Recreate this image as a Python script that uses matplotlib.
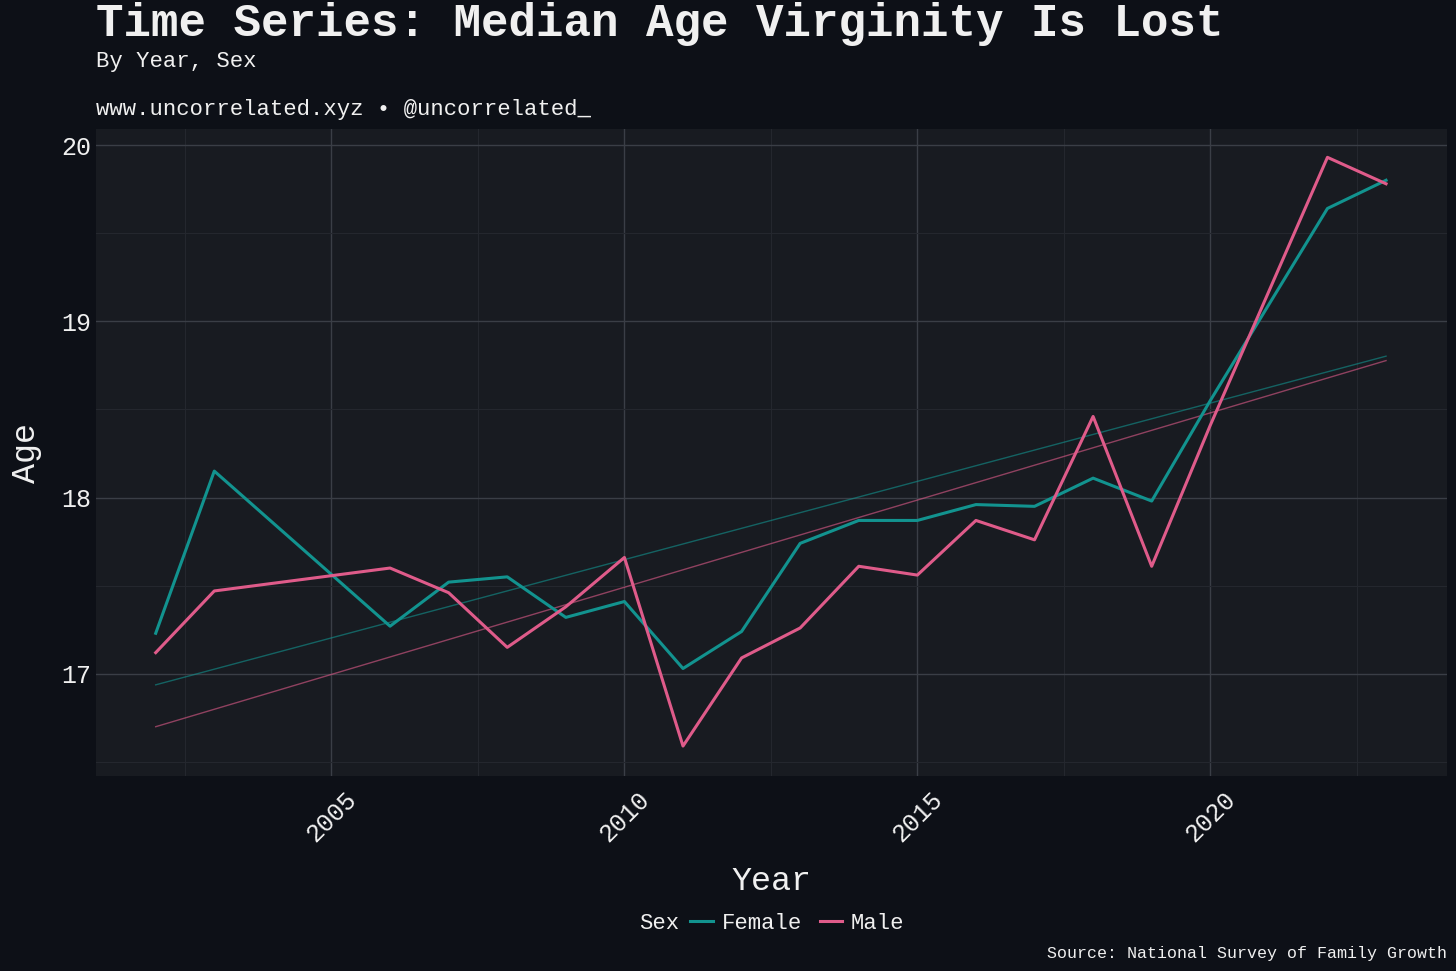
import numpy as np
import matplotlib
matplotlib.use("Agg")
import matplotlib.pyplot as plt
from matplotlib.ticker import MultipleLocator

years = [2002, 2003, 2006, 2007, 2008, 2009, 2010, 2011, 2012, 2013, 2014,
         2015, 2016, 2017, 2018, 2019, 2020, 2022, 2023]
female = [17.23, 18.15, 17.27, 17.52, 17.55, 17.32, 17.41, 17.03, 17.24, 17.74,
          17.87, 17.87, 17.96, 17.95, 18.11, 17.98, 18.55, 19.64, 19.80]
male = [17.12, 17.47, 17.60, 17.46, 17.15, 17.38, 17.66, 16.59, 17.09, 17.26,
        17.61, 17.56, 17.87, 17.76, 18.46, 17.61, 18.41, 19.93, 19.78]

BG = "#0d1017"
PANEL = "#181b21"
TEAL = "#12938f"
PINK = "#df5b8a"
TXT = "#f0f0f0"
plt.rcParams['font.family'] = ['Liberation Mono', 'DejaVu Sans Mono']

fig = plt.figure(figsize=(14.56, 9.71), dpi=100, facecolor=BG)
ax = fig.add_axes([0.0659, 0.2008, 0.9279, 0.6662])
ax.set_facecolor(PANEL)
for s in ax.spines.values():
    s.set_visible(False)

x = np.array(years)
for vals, col, name in [(female, TEAL, "Female"), (male, PINK, "Male")]:
    ax.plot(x, vals, color=col, lw=2.2, label=name, zorder=3)
    k, b = np.polyfit(x, vals, 1)
    xs = np.array([x.min(), x.max()])
    ax.plot(xs, k * xs + b, color=col, lw=1.0, alpha=0.6, zorder=2)

ax.set_xlim(2000.98, 2024.04)
ax.set_ylim(16.42, 20.09)
ax.xaxis.set_major_locator(MultipleLocator(5))
ax.xaxis.set_minor_locator(MultipleLocator(2.5))
ax.yaxis.set_major_locator(MultipleLocator(1))
ax.yaxis.set_minor_locator(MultipleLocator(0.5))
ax.grid(which="major", color="#3a3e46", lw=1.0)
ax.grid(which="minor", color="#24272e", lw=0.8)
ax.set_axisbelow(True)
ax.tick_params(which="both", length=0, colors=TXT, labelsize=18)
for lab in ax.get_xticklabels():
    lab.set_rotation(45)
ax.tick_params(axis="x", pad=8)
ax.set_xlabel("Year", color=TXT, fontsize=24, labelpad=14)
ax.set_ylabel("Age", color=TXT, fontsize=24, labelpad=14)

fig.text(0.066, 0.975, "Time Series: Median Age Virginity Is Lost", color=TXT,
         fontsize=33, fontweight="bold", va="center")
fig.text(0.066, 0.937, "By Year, Sex", color=TXT, fontsize=16, va="center")
fig.text(0.066, 0.887, "www.uncorrelated.xyz \u2022 @uncorrelated_", color=TXT,
         fontsize=16, va="center")
fig.text(0.994, 0.018, "Source: National Survey of Family Growth", color=TXT,
         fontsize=12, ha="right", va="center")

leg = fig.legend(loc="center", bbox_to_anchor=(0.53, 0.049), ncol=2, frameon=False,
                 fontsize=16, handlelength=1.0, columnspacing=0.8, handletextpad=0.4,
                 title="Sex", title_fontsize=16)
leg._legend_box.align = "left"
for t in leg.get_texts():
    t.set_color(TXT)
leg.get_title().set_color(TXT)
# place title inline
from matplotlib.offsetbox import HPacker
box = leg._legend_box
box._children = [HPacker(children=box.get_children(), align="center", pad=0, sep=8)]

fig.savefig("out.png", dpi=100, facecolor=BG)
